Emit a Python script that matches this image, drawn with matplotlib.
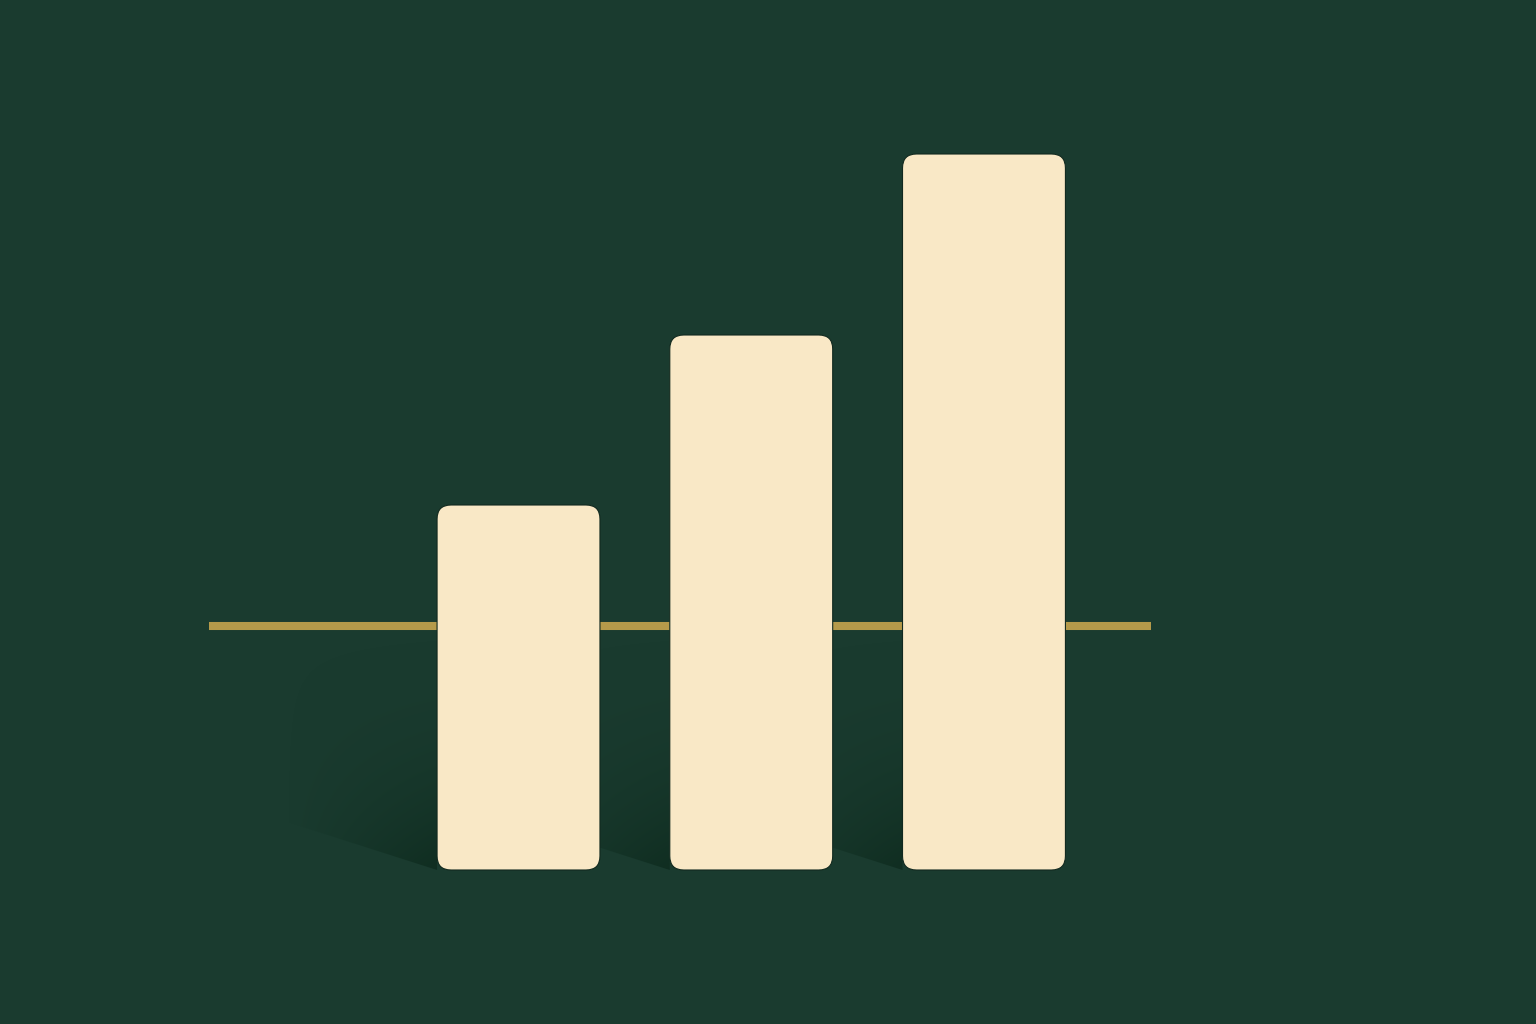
import numpy as np
import matplotlib
matplotlib.use('Agg')
import matplotlib.pyplot as plt
from matplotlib.patches import FancyBboxPatch, Polygon

# data
categories = ['A', 'B', 'C']
values = [3.65, 5.35, 7.16]
target = 2.44

bg = '#1a3b2f'
barcol = '#f9e8c6'
linecol = '#b59a4a'

fig = plt.figure(figsize=(15.36, 10.24), dpi=100)
fig.patch.set_facecolor(bg)
ax = fig.add_axes([0, 0, 1, 1])
ax.set_facecolor(bg)
ax.set_xlim(-2.228, 4.372)
ax.set_ylim(-1.54, 8.70)
ax.axis('off')

xs = np.arange(len(categories))
w = 0.70
asp = 232.75 / 100.0

# target line, behind the bars
ax.plot([-1.33, 2.717], [target, target], color=linecol, lw=5.8,
        solid_capstyle='butt', zorder=2)

# soft shadows falling to the left, darkest at the bar foot
sw, sh, rise = 0.644, 2.6, 0.48
ny, nx = 200, 120
yy = np.linspace(1, 0, ny).reshape(-1, 1)   # top row = high
xx = np.linspace(0, 1, nx).reshape(1, -1)   # 1 = next to the bar
for x, v in zip(xs, values):
    bl = x - w / 2
    rgba = np.zeros((ny, nx, 4))
    rgba[..., 0] = 0.04
    rgba[..., 1] = 0.15
    rgba[..., 2] = 0.10
    rgba[..., 3] = 0.65 * (1 - yy) ** 2.4 * xx ** 0.9
    pts = [(bl, 0), (bl - sw, rise), (bl - sw, sh), (bl, sh)]
    poly = Polygon(pts, closed=True, facecolor='none', edgecolor='none')
    ax.add_patch(poly)
    im = ax.imshow(rgba, extent=(bl - sw, bl + 0.01, 0, sh), origin='upper',
                   aspect='auto', zorder=1, interpolation='bilinear')
    im.set_clip_path(poly)

# bars
for x, v in zip(xs, values):
    p = FancyBboxPatch((x - w / 2, 0), w, v,
                       boxstyle='round,pad=0,rounding_size=0.06',
                       mutation_aspect=asp,
                       facecolor=barcol, edgecolor='#12291f', lw=0.8, zorder=3)
    ax.add_patch(p)

fig.savefig('out.png', dpi=100, facecolor=bg)
